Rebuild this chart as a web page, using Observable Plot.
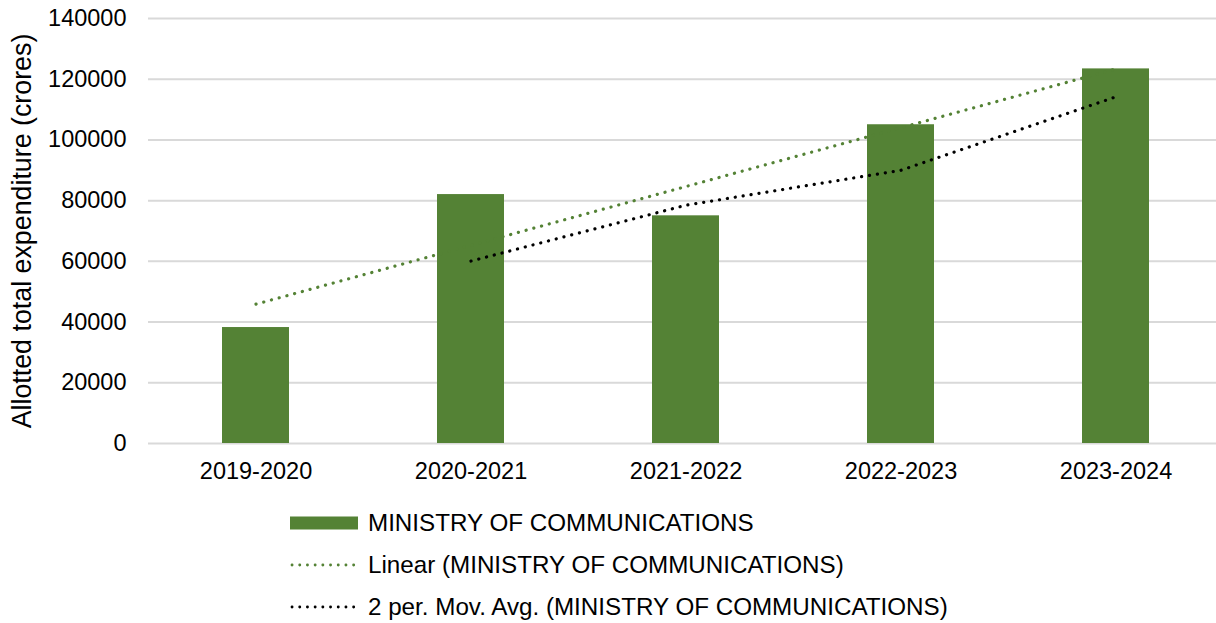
<!DOCTYPE html>
<html>
<head>
<meta charset="utf-8">
<script src="https://cdn.jsdelivr.net/npm/d3@7"></script>
<script src="https://cdn.jsdelivr.net/npm/@observablehq/plot@0.6"></script>
<style>
  html, body { margin: 0; padding: 0; background: #ffffff; }
  body { width: 1216px; height: 623px; overflow: hidden; font-family: "Liberation Sans", Arial, sans-serif; color: #000; }
  #legend { margin-top: 7px; padding-left: 290px; font-size: 24.2px; }
  .row { height: 42px; display: flex; align-items: center; }
  .row svg { margin-right: 8px; flex: none; }
</style>
</head>
<body>
<div id="chart"></div>
<div id="legend"></div>
<script>
// ---- data ----
const years = ["2019-2020", "2020-2021", "2021-2022", "2022-2023", "2023-2024"];
const expenditure = [38200, 82000, 75000, 105000, 123400];
const trendYears = ["2019-2020", "2023-2024"];
const trendValues = [45900, 123400];
const movAvgYears = ["2020-2021", "2021-2022", "2022-2023", "2023-2024"];
const movAvgValues = [60100, 78500, 90000, 114200];
const yTicks = [0, 20000, 40000, 60000, 80000, 100000, 120000, 140000];
const seriesName = "MINISTRY OF COMMUNICATIONS";
const yLabel = "Allotted total expenditure (crores)";

const green = "#548235";
const bars = years.map((y, i) => ({year: y, value: expenditure[i]}));
const trend = trendYears.map((y, i) => ({year: y, value: trendValues[i]}));
const movAvg = movAvgYears.map((y, i) => ({year: y, value: movAvgValues[i]}));

const chart = Plot.plot({
  width: 1216,
  height: 495,
  marginLeft: 148,
  marginRight: 0,
  marginTop: 18,
  marginBottom: 52,
  style: {fontFamily: "'Liberation Sans', Arial, sans-serif", fontSize: "23.5px", color: "#000", background: "#fff", overflow: "visible"},
  x: {domain: years, range: [148, 1223], paddingInner: 0.69, paddingOuter: 0.345, label: null},
  y: {domain: [0, 140000], label: null},
  marks: [
    Plot.gridY(yTicks, {stroke: "#d9d9d9", strokeOpacity: 1, strokeWidth: 2}),
    Plot.barY(bars, {x: "year", y: "value", fill: green}),
    Plot.line(trend, {x: "year", y: "value", stroke: green, strokeWidth: 3.2, strokeDasharray: "0.1 7.9", strokeLinecap: "round"}),
    Plot.line(movAvg, {x: "year", y: "value", stroke: "#000", strokeWidth: 3.2, strokeDasharray: "0.1 7.9", strokeLinecap: "round"}),
    Plot.axisX({tickSize: 0, tickPadding: 19, fontSize: 23.5, label: null}),
    Plot.axisY(yTicks, {tickSize: 0, tickPadding: 22, fontSize: 23.5, tickFormat: d => String(d), label: null}),
    Plot.axisY({ticks: [], tickSize: 0, fontSize: 26.8, label: yLabel, labelAnchor: "center", labelArrow: "none", labelOffset: 137})
  ]
});
document.getElementById("chart").appendChild(chart);

// ---- legend ----
const legendItems = [
  {label: seriesName, kind: "bar", color: green},
  {label: "Linear (" + seriesName + ")", kind: "dots", color: green},
  {label: "2 per. Mov. Avg. (" + seriesName + ")", kind: "dots", color: "#000"}
];
const legend = document.getElementById("legend");
for (const item of legendItems) {
  const row = document.createElement("div");
  row.className = "row";
  const ns = "http://www.w3.org/2000/svg";
  const svg = document.createElementNS(ns, "svg");
  svg.setAttribute("width", 70);
  svg.setAttribute("height", 16);
  if (item.kind === "bar") {
    const r = document.createElementNS(ns, "rect");
    r.setAttribute("x", 0); r.setAttribute("y", 1.5);
    r.setAttribute("width", 68); r.setAttribute("height", 13);
    r.setAttribute("fill", item.color);
    svg.appendChild(r);
  } else {
    const l = document.createElementNS(ns, "line");
    l.setAttribute("x1", 2); l.setAttribute("x2", 68);
    l.setAttribute("y1", 8); l.setAttribute("y2", 8);
    l.setAttribute("stroke", item.color);
    l.setAttribute("stroke-width", 2.8);
    l.setAttribute("stroke-linecap", "round");
    l.setAttribute("stroke-dasharray", "0.1 7.6");
    svg.appendChild(l);
  }
  row.appendChild(svg);
  const t = document.createElement("span");
  t.textContent = item.label;
  row.appendChild(t);
  legend.appendChild(row);
}
</script>
</body>
</html>
